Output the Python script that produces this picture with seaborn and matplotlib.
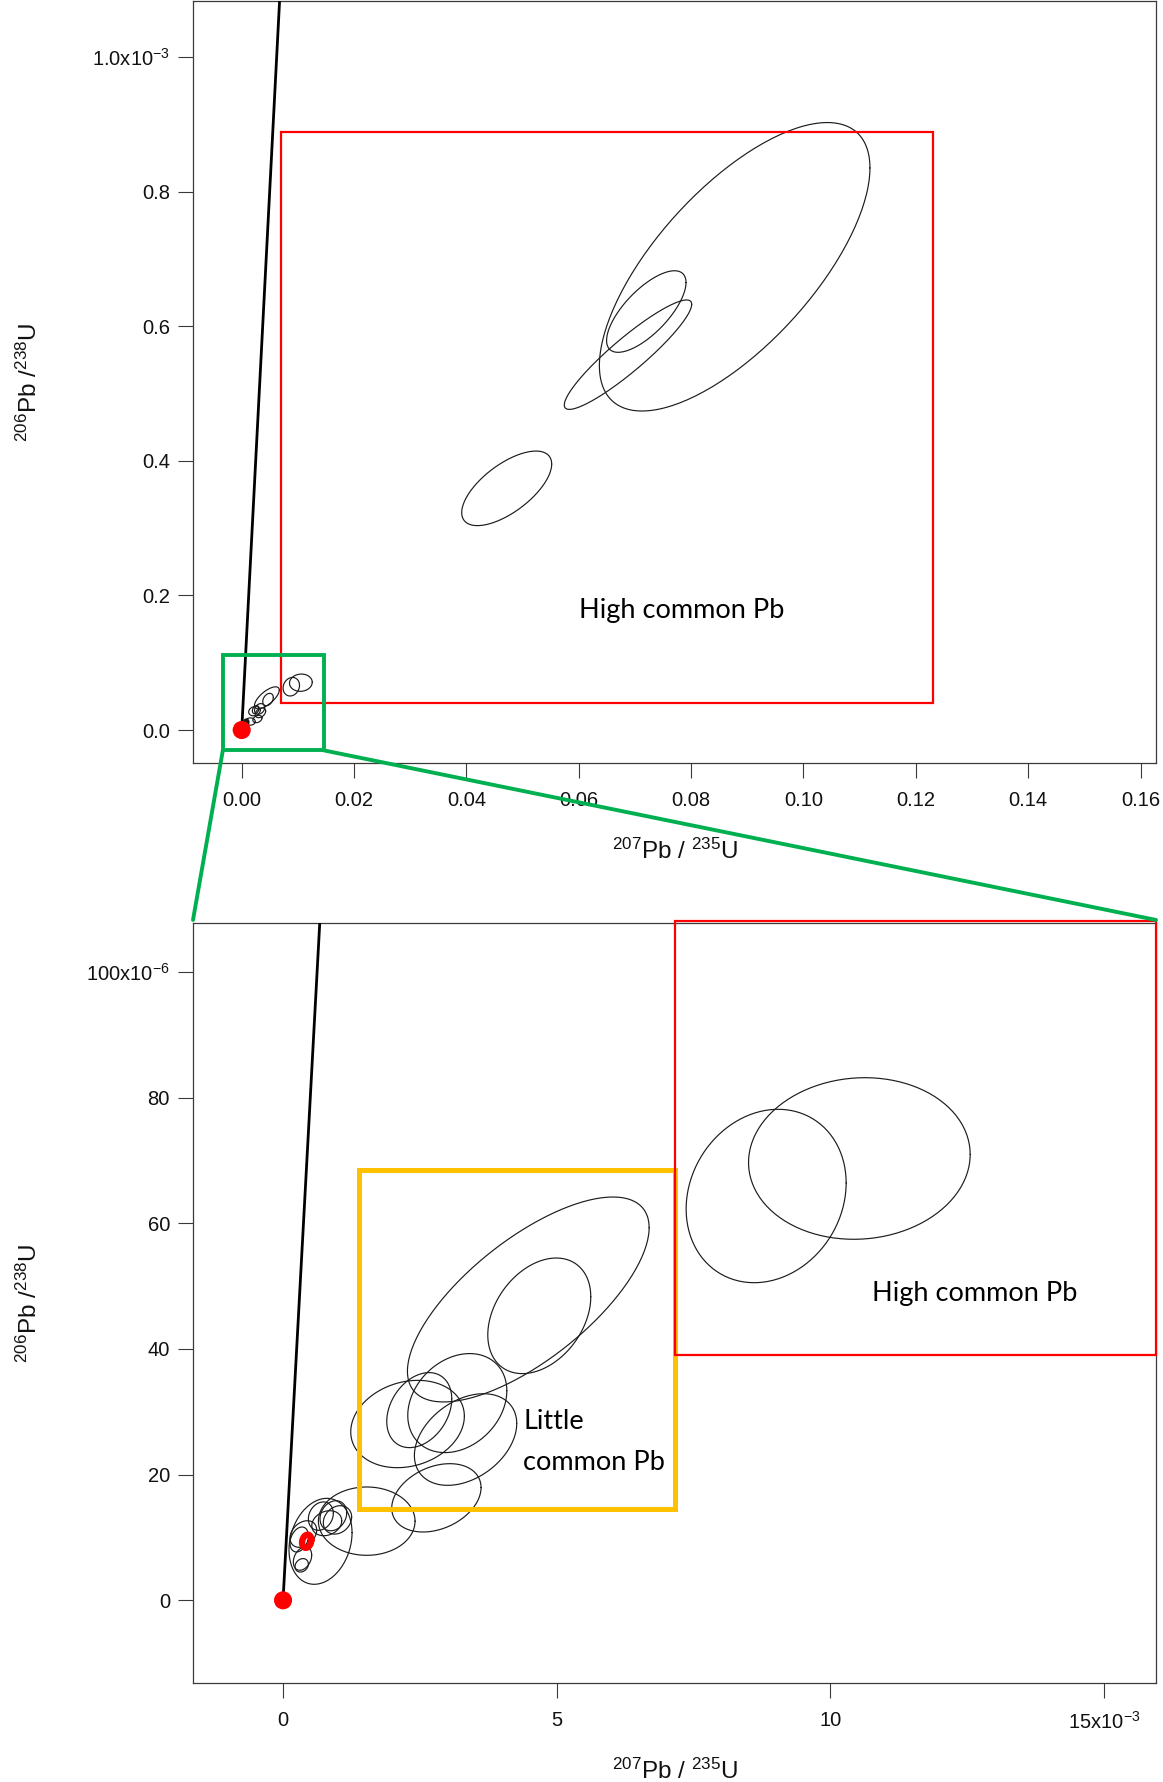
import numpy as np
import pandas as pd
import matplotlib
matplotlib.use("Agg")
import matplotlib.pyplot as plt
from matplotlib.patches import Rectangle, ConnectionPatch
import seaborn as sns

# ---------------------------------------------------------------------------
# U-Pb error ellipses: 207Pb/235U in units of 1e-3, 206Pb/238U in units of 1e-6
# (centre, half-width, half-height, error correlation)
# ---------------------------------------------------------------------------
ell_x = [87.75, 72.02, 68.76, 47.17,
         10.53, 8.827, 4.481, 4.682, 2.275, 2.489, 3.184, 3.335, 2.802, 1.529,
         0.685, 0.691, 0.920, 0.995, 0.799, 0.296, 0.356, 0.341, 0.371]
ell_sx = [24.08, 7.07, 11.34, 8.01,
          2.025, 1.462, 2.208, 0.941, 1.038, 0.594, 0.905, 0.935, 0.816, 0.883,
          0.576, 0.228, 0.244, 0.259, 0.274, 0.168, 0.168, 0.122, 0.244]
ell_y = [688.3, 621.8, 557.7, 359.1,
         70.32, 64.35, 47.88, 45.28, 28.06, 30.27, 31.39, 25.59, 16.31, 12.60,
         9.39, 13.40, 13.46, 12.80, 12.27, 9.68, 6.64, 5.57, 10.55]
ell_sy = [214.3, 60.6, 81.3, 55.4,
          12.86, 13.80, 16.31, 9.20, 6.95, 5.97, 7.88, 7.29, 5.44, 5.44,
          6.84, 2.26, 2.39, 2.26, 1.99, 1.99, 1.86, 1.07, 2.12]
ell_rho = [0.685, 0.71, 0.92, 0.65,
           0.05, 0.15, 0.70, 0.33, 0.18, 0.30, 0.25, 0.35, 0.30, 0.0,
           0.20, 0.20, 0.20, 0.20, 0.20, 0.30, 0.30, 0.20, 0.30]

# highlighted analysis (red)
hl_x, hl_sx, hl_y, hl_sy, hl_rho = 0.433, 0.085, 9.40, 1.05, 0.2

# concordia (near-linear at these young ages) and its origin
concordia_x = [0.0, 7.0]      # 1e-3
concordia_y = [0.0, 1125.0]   # 1e-6
origin_x, origin_y = [0.0], [0.0]

# annotation boxes: (x0, x1) in 1e-3, (y0, y1) in 1e-6
top_red_box = (6.96, 123.1, 40.7, 888.6)
top_zoom_box = (-3.36, 14.65, -30.3, 111.6)
bot_orange_box = (1.394, 7.169, 14.53, 68.44)
bot_red_box = (7.169, 15.95, 39.1, 108.1)

# axis ranges and ticks
top_xlim = (-0.00867, 0.16275)
top_ylim = (-0.049e-3, 1.0832e-3)
bot_xlim = (-1.645e-3, 15.95e-3)
bot_ylim = (-13.16e-6, 107.8e-6)
top_xticks = [0.00, 0.02, 0.04, 0.06, 0.08, 0.10, 0.12, 0.14, 0.16]
top_xlabels = ["0.00", "0.02", "0.04", "0.06", "0.08", "0.10", "0.12", "0.14", "0.16"]
top_yticks = [0.0, 0.2e-3, 0.4e-3, 0.6e-3, 0.8e-3, 1.0e-3]
top_ylabels = ["0.0", "0.2", "0.4", "0.6", "0.8", r"1.0x10$^{-3}$"]
bot_xticks = [0.0, 5e-3, 10e-3, 15e-3]
bot_xlabels = ["0", "5", "10", r"15x10$^{-3}$"]
bot_yticks = [0.0, 20e-6, 40e-6, 60e-6, 80e-6, 100e-6]
bot_ylabels = ["0", "20", "40", "60", "80", r"100x10$^{-6}$"]

# ---------------------------------------------------------------------------
sns.set_style("ticks")
plt.rcParams["font.family"] = ["Liberation Sans", "DejaVu Sans"]
plt.rcParams["mathtext.default"] = "regular"

W, H = 1163, 1782
fig = plt.figure(figsize=(W / 100, H / 100), dpi=100)
ax_top = fig.add_axes([193 / W, 1 - 763 / H, 963 / W, 762 / H])
ax_bot = fig.add_axes([193 / W, 1 - 1683 / H, 963 / W, 760 / H])

AX_COL = "#3a3a3a"
RED = "#FF0000"
GREEN = "#00B050"
ORANGE = "#FFC000"
NOTE_FONT = ["Lato", "DejaVu Sans"]
NOTE_SIZE = 19.5


def outline(cx, sx, cy, sy, rho, n=200):
    t = np.linspace(0, 2 * np.pi, n)
    x = cx + sx * np.cos(t)
    y = cy + sy * (rho * np.cos(t) + np.sqrt(1 - rho ** 2) * np.sin(t))
    return x, y


frames = []
for i, (cx, sx, cy, sy, r) in enumerate(zip(ell_x, ell_sx, ell_y, ell_sy, ell_rho)):
    x, y = outline(cx, sx, cy, sy, r)
    frames.append(pd.DataFrame({"x": x * 1e-3, "y": y * 1e-6, "id": i}))
ellipses = pd.DataFrame(pd.concat(frames, ignore_index=True))
hx, hy = outline(hl_x, hl_sx, hl_y, hl_sy, hl_rho)
highlight = pd.DataFrame({"x": hx * 1e-3, "y": hy * 1e-6})
conc = pd.DataFrame({"x": np.array(concordia_x) * 1e-3, "y": np.array(concordia_y) * 1e-6})
orig = pd.DataFrame({"x": origin_x, "y": origin_y})


def box(ax, b, color, lw, clip=True):
    x0, x1, y0, y1 = b
    ax.add_patch(Rectangle((x0 * 1e-3, y0 * 1e-6), (x1 - x0) * 1e-3, (y1 - y0) * 1e-6,
                           fill=False, edgecolor=color, linewidth=lw, clip_on=clip, zorder=5))


for ax, show_hl in ((ax_top, False), (ax_bot, True)):
    sns.lineplot(data=conc, x="x", y="y", ax=ax, color="black", linewidth=2.0,
                 sort=False, estimator=None, zorder=3)
    sns.lineplot(data=ellipses, x="x", y="y", units="id", ax=ax, color="#1c1c1c",
                 linewidth=0.85, sort=False, estimator=None, zorder=4)
    if show_hl:
        sns.lineplot(data=highlight, x="x", y="y", ax=ax, color=RED, linewidth=4.6,
                     sort=False, estimator=None, zorder=6)
    sns.scatterplot(data=orig, x="x", y="y", ax=ax, color=RED, s=170,
                    edgecolor="none", zorder=7)
    for side in ("left", "bottom", "right", "top"):
        ax.spines[side].set_visible(True)
        ax.spines[side].set_color(AX_COL)
        ax.spines[side].set_linewidth(0.9)
    ax.tick_params(axis="both", direction="out", length=10.8, width=0.8,
                   color=AX_COL, labelsize=14.5, labelcolor="#111111")
    ax.tick_params(axis="x", pad=9.5)
    ax.tick_params(axis="y", pad=5.8)

# top panel
ax_top.set_xlim(*top_xlim)
ax_top.set_ylim(*top_ylim)
ax_top.set_xticks(top_xticks, top_xlabels)
ax_top.set_yticks(top_yticks, top_ylabels)
box(ax_top, top_red_box, RED, 1.6)
box(ax_top, top_zoom_box, GREEN, 2.8, clip=False)
ax_top.text(0.07837, 0.1776e-3, "High common Pb", ha="center", va="center",
            fontsize=NOTE_SIZE, family=NOTE_FONT, color="black", zorder=8)

# bottom panel
ax_bot.set_xlim(*bot_xlim)
ax_bot.set_ylim(*bot_ylim)
ax_bot.set_xticks(bot_xticks, bot_xlabels)
ax_bot.set_yticks(bot_yticks, bot_ylabels)
box(ax_bot, bot_orange_box, ORANGE, 3.6, clip=False)
box(ax_bot, bot_red_box, RED, 1.6, clip=False)
ax_bot.text(12.63e-3, 48.9e-6, "High common Pb", ha="center", va="center",
            fontsize=NOTE_SIZE, family=NOTE_FONT, color="black", zorder=8)
ax_bot.text(4.392e-3, 25.2e-6, "Little\ncommon Pb", ha="left", va="center",
            fontsize=NOTE_SIZE, linespacing=1.8, family=NOTE_FONT, color="black", zorder=8)

for ax in (ax_top, ax_bot):
    ax.set_xlabel(r"$^{207}$Pb / $^{235}$U", fontsize=17.5, color="#111111")
    ax.set_ylabel(r"$^{206}$Pb /$^{238}$U", fontsize=17.5, color="#111111")
    ax.xaxis.set_label_coords(0.5, -76 / 762)
    ax.yaxis.set_label_coords(-0.157, 0.5)

# green connectors from the zoom box to the lower panel
x0, x1, y0, y1 = top_zoom_box
for xa, xb in ((x0, 0.0), (x1, 1.0)):
    con = ConnectionPatch(xyA=(xa * 1e-3, y0 * 1e-6), coordsA=ax_top.transData,
                          xyB=(xb, 1.004), coordsB=ax_bot.transAxes,
                          color=GREEN, linewidth=2.8, zorder=10)
    fig.add_artist(con)

fig.savefig("out.png", dpi=100, facecolor="white")
